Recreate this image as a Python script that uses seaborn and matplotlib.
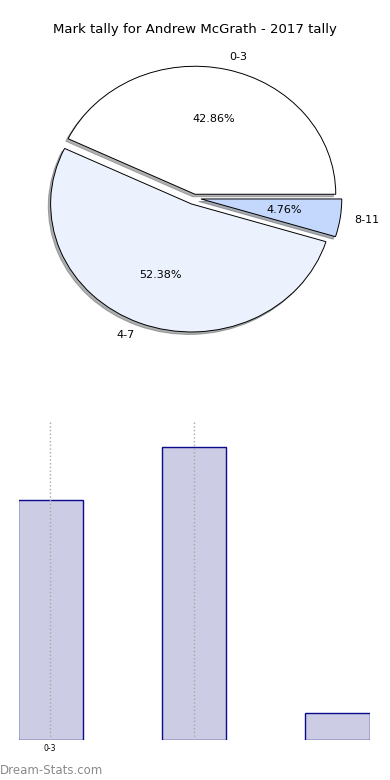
import matplotlib
matplotlib.use("Agg")
import matplotlib.pyplot as plt
import seaborn as sns

# mark tally, 2017
mark_bins = ["0-3", "4-7", "8-11"]
tally = [9, 11, 1]
pie_colors = ["#ffffff", "#ebf1fd", "#c4d8fd"]
bar_tick_labels = ["0-3", ""]

sns.set_style("white")
plt.rcParams["text.color"] = "black"
plt.rcParams["xtick.color"] = "black"

fig = plt.figure(figsize=(3.9, 7.8), dpi=100)

# pie on top (slightly stretched horizontally like the original)
ax_pie = fig.add_axes([18 / 390, 422 / 780, 352 / 390, 320 / 780])
wedges, texts, autotexts = ax_pie.pie(
    tally,
    labels=mark_bins,
    colors=pie_colors,
    explode=(0.03, 0.05, 0.05),
    startangle=0,
    shadow={"ox": -0.012, "oy": -0.014, "shade": 0.6},
    autopct="%.2f%%",
    wedgeprops={"edgecolor": "black", "linewidth": 0.7},
    textprops={"fontsize": 8, "color": "black"},
)
ax_pie.set_aspect("auto")
ax_pie.set_xlim(-1.25, 1.25)
ax_pie.set_ylim(-1.25, 1.25)

fig.text(0.5, 1 - 30 / 780, "Mark tally for Andrew McGrath - 2017 tally",
         ha="center", va="center", fontsize=9.5, color="black")

# bar chart below
ax_bar = fig.add_axes([19 / 390, 40 / 780, 351 / 390, 320 / 780])
sns.barplot(x=mark_bins, y=tally, ax=ax_bar, width=0.45, color="#ccccE4",
            saturation=1, edgecolor="#0a0a8c", linewidth=1)
ax_bar.set_xlim(-0.217, 2.225)
ax_bar.set_ylim(0, 12)
ax_bar.set_xticks([0, 1])
ax_bar.set_xticklabels(bar_tick_labels, fontsize=5.5)
ax_bar.set_yticks([])
ax_bar.tick_params(axis="x", length=0, pad=3)
ax_bar.set_axisbelow(False)
ax_bar.grid(axis="x", linestyle=":", color="#a8a8a8", linewidth=1)
for s in ax_bar.spines.values():
    s.set_visible(False)

fig.text(0.0, 1 - 770 / 780, "Dream-Stats.com", ha="left", va="center",
         fontsize=8.5, color="#8a8a8a")

fig.savefig("out.png", dpi=100)
